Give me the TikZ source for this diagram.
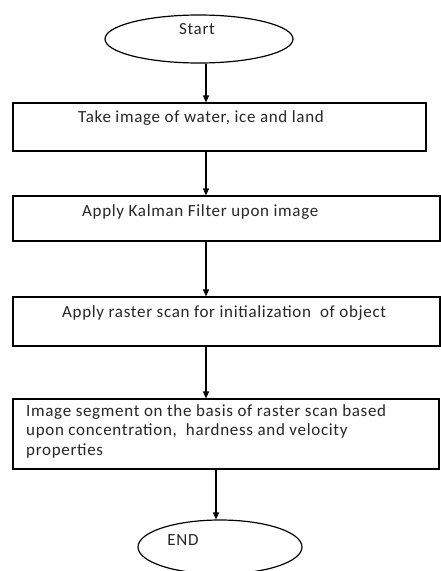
\documentclass[tikz,border=0pt]{standalone}
\usepackage{fontspec}
\setmainfont{Carlito}[LetterSpace=4]
\usetikzlibrary{arrows.meta,shapes.geometric}

\tikzset{
  box/.style={draw, line width=1.2pt, rectangle, inner sep=0pt},
  oval/.style={draw, line width=1.2pt, ellipse, inner sep=0pt},
  txt/.style={anchor=west, inner sep=0pt, font=\fontsize{17}{19.5}\selectfont, text=black!85},
  arr/.style={line width=1.2pt, -{Triangle[length=7pt,width=6pt]}}
}

\begin{document}
\begin{tikzpicture}[x=1pt, y=-1pt]
        \useasboundingbox (0,0) rectangle (441,571);
        % Inicio
        \node[oval, minimum width=188pt, minimum height=48pt] (start) at (199,39) {};
        \node[txt, anchor=center] (tstart) at (197,29) {Start};
        % Cajas de proceso
        \node[box, minimum width=413pt, minimum height=48pt] (b1) at (219.5,127) {};
        \node[txt] (t1) at (78,118) {Take image of water, ice and land};
        \node[box, minimum width=427pt, minimum height=45pt] (b2) at (226.5,218.5) {};
        \node[txt] (t2) at (82,212) {Apply Kalman Filter upon image};
        \node[box, minimum width=427pt, minimum height=49pt] (b3) at (226.5,321.5) {};
        \node[txt] (t3) at (62,313) {Apply raster scan for initialization~ of object};
        \node[box, minimum width=426pt, minimum height=70pt] (b4) at (226,434) {};
        \node[txt, align=left, anchor=north west] (t4) at (26,404) {Image segment on the basis of raster scan based\\upon concentration,~ hardness and velocity\\properties};
        % Fin
        \node[oval, minimum width=164pt, minimum height=54pt] (fin) at (220,547) {};
        \node[txt, anchor=center] (tfin) at (183,540) {END};

        % Flechas
        \coordinate (ax) at (206,0);
        \coordinate (ex) at (216,0);
        \draw[arr] (start.south -| ax) -- (b1.north -| ax);
        \draw[arr] (b1.south -| ax) -- (b2.north -| ax);
        \draw[arr] (b2.south -| ax) -- (b3.north -| ax);
        \draw[arr] (b3.south -| ax) -- (b4.north -| ax);
        \draw[arr] (b4.south -| ex) -- (fin.north -| ex);
\end{tikzpicture}
\end{document}
